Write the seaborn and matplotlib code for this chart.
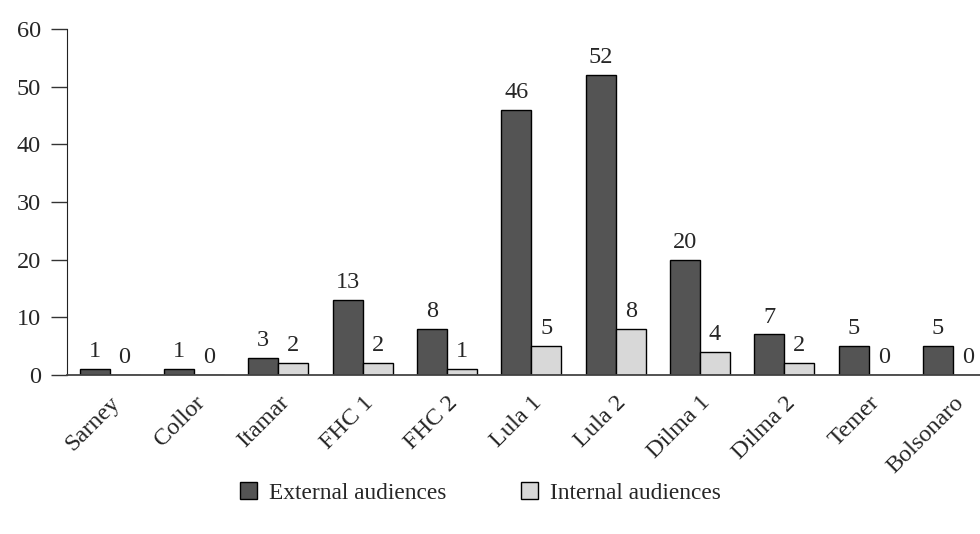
import pandas as pd
import matplotlib.pyplot as plt
import seaborn as sns

presidents = ['Sarney', 'Collor', 'Itamar', 'FHC 1', 'FHC 2', 'Lula 1',
              'Lula 2', 'Dilma 1', 'Dilma 2', 'Temer', 'Bolsonaro']
external = [1, 1, 3, 13, 8, 46, 52, 20, 7, 5, 5]
internal = [0, 0, 2, 2, 1, 5, 8, 4, 2, 0, 0]
series_names = ['External audiences', 'Internal audiences']

data = pd.DataFrame({
    'president': presidents * 2,
    'count': external + internal,
    'audience': [series_names[0]] * len(presidents) + [series_names[1]] * len(presidents),
})

sns.set_style('white')
plt.rcParams['font.family'] = ['Liberation Serif', 'DejaVu Serif']

fig = plt.figure(figsize=(9.8, 5.34), dpi=100)
ax = fig.add_axes([0.068, 0.298, 0.932, 0.648])

sns.barplot(data=data, x='president', y='count', hue='audience',
            palette=['#545454', '#d8d8d8'], edgecolor='black', linewidth=1,
            width=0.71, ax=ax, legend=True)

# value labels above each bar
for cont in ax.containers:
    ax.bar_label(cont, fmt='%d', padding=5, fontsize=17.5)

ax.set_ylim(0, 60)
ax.set_xlim(-0.51, 10.32)
ax.set_yticks(range(0, 61, 10))
ax.tick_params(axis='y', which='major', left=True, length=11.5, width=1,
               color='#333333', labelsize=17.5, pad=7, direction='out')
ax.tick_params(axis='x', bottom=False, labelsize=17.5, pad=9)
for lbl in ax.get_xticklabels():
    lbl.set_rotation(45)
    lbl.set_ha('right')
    lbl.set_rotation_mode('anchor')
ax.set_xlabel('')
ax.set_ylabel('')
sns.despine(ax=ax, top=True, right=True)
ax.spines['left'].set_color('#222222')
ax.spines['bottom'].set_color('#444444')
ax.spines['bottom'].set_linewidth(1.3)

handles, labels = ax.get_legend_handles_labels()
ax.get_legend().remove()
fig.legend(handles, labels, loc='center', bbox_to_anchor=(0.49, 0.077), ncol=2,
           frameon=False, fontsize=16.8, handlelength=0.75, handleheight=0.75,
           handletextpad=0.5, columnspacing=3.2)

plt.savefig('out.png', dpi=100)
plt.close()
